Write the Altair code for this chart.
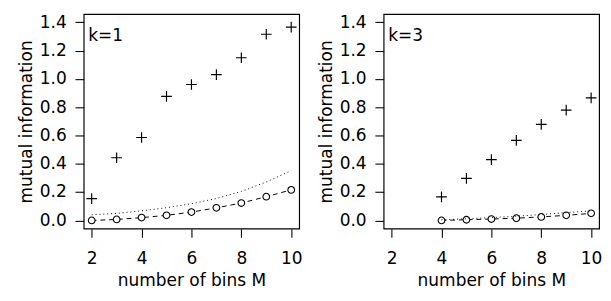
import altair as alt
import pandas as pd

# ---- data ----
M_k1 = [2, 3, 4, 5, 6, 7, 8, 9, 10]
plus_k1 = [0.154, 0.443, 0.586, 0.877, 0.961, 1.03, 1.15, 1.316, 1.366]
circ_k1 = [0.0, 0.007, 0.02, 0.036, 0.059, 0.089, 0.123, 0.168, 0.216]
dot_k1 = [0.04, 0.05, 0.068, 0.09, 0.118, 0.155, 0.205, 0.272, 0.352]

M_k3 = [4, 5, 6, 7, 8, 9, 10]
plus_k3 = [0.166, 0.297, 0.43, 0.566, 0.679, 0.78, 0.866]
circ_k3 = [0.0, 0.005, 0.01, 0.016, 0.025, 0.036, 0.05]
dot_k3 = [0.005, 0.012, 0.02, 0.03, 0.042, 0.055, 0.068]

x_ticks = [2, 4, 6, 8, 10]
y_ticks = [0.0, 0.2, 0.4, 0.6, 0.8, 1.0, 1.2, 1.4]
panel_labels = ["k=1", "k=3"]

FONT = "DejaVu Sans"
FS = 17.5
CROSS = "M-1,0L1,0M0,-1L0,1"


def panel(M, plus, circ, dot, label):
    df = pd.DataFrame({"M": M, "plus": plus, "circ": circ, "dot": dot})
    lab = pd.DataFrame({"M": [1.86], "y": [1.305], "label": [label]})
    xs = alt.Scale(domain=[1.68, 10.32], nice=False, zero=False)
    ys = alt.Scale(domain=[-0.058, 1.458], nice=False, zero=False)
    xax = alt.Axis(values=x_ticks, format="d", title="number of bins M")
    yax = alt.Axis(values=y_ticks, format=".1f", title="mutual information")
    x = alt.X("M:Q", scale=xs, axis=xax)
    base = alt.Chart(df)

    dashed = base.mark_line(color="black", strokeWidth=1, strokeDash=[5, 4]).encode(
        x=x, y=alt.Y("circ:Q", scale=ys, axis=yax)
    )
    circles = base.mark_point(
        shape="circle", filled=True, fill="white", stroke="black",
        strokeWidth=1.1, size=48, opacity=1
    ).encode(x=x, y=alt.Y("circ:Q", scale=ys, axis=yax))
    dotted = base.mark_line(color="black", strokeWidth=1, strokeDash=[1, 3]).encode(
        x=x, y=alt.Y("dot:Q", scale=ys, axis=yax)
    )
    crosses = base.mark_point(
        shape=CROSS, filled=False, color="black", strokeWidth=1.2, size=121, opacity=1
    ).encode(x=x, y=alt.Y("plus:Q", scale=ys, axis=yax))
    text = alt.Chart(lab).mark_text(
        align="left", baseline="middle", font=FONT, fontSize=FS, color="black"
    ).encode(x=alt.X("M:Q", scale=xs, axis=xax), y=alt.Y("y:Q", scale=ys, axis=yax), text="label:N")

    return alt.layer(dashed, circles, dotted, crosses, text).properties(width=222, height=221)


left = panel(M_k1, plus_k1, circ_k1, dot_k1, panel_labels[0])
right = panel(M_k3, plus_k3, circ_k3, dot_k3, panel_labels[1])

chart = (
    alt.hconcat(left, right, spacing=14)
    .properties(padding={"left": 9, "top": 0, "right": 0, "bottom": 0}, background="white")
    .configure_view(stroke="black", strokeWidth=1.2)
    .configure_axis(
        domain=False, grid=False, tickColor="black", tickSize=9, tickWidth=1.1,
        labelFont=FONT, labelFontSize=FS, labelColor="black",
        titleFont=FONT, titleFontSize=FS, titleFontWeight="normal", titleColor="black",
    )
    .configure_axisX(labelPadding=13, titlePadding=5)
    .configure_axisY(labelPadding=9, titlePadding=4)
)

chart.save("out.html", embed_options={"renderer": "svg", "actions": False})
